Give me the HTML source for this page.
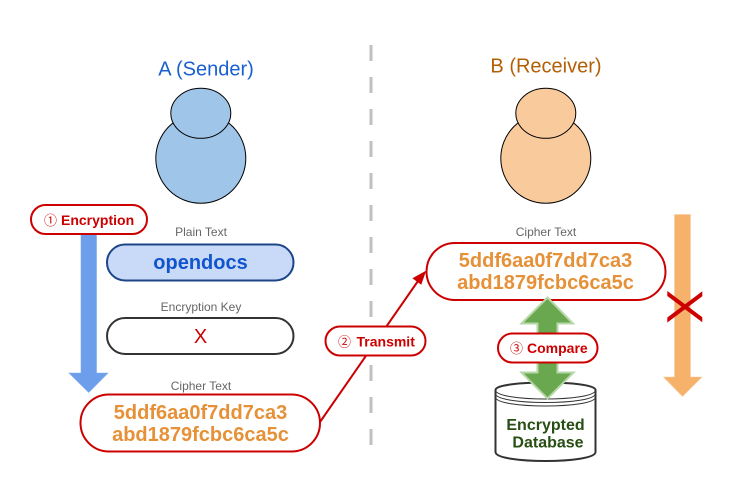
<!DOCTYPE html>
<html><head><meta charset="utf-8"><style>
html,body{margin:0;padding:0;background:#fff;width:729px;height:490px;overflow:hidden}
svg{display:block}
text{font-family:"Liberation Sans","Noto Sans CJK JP",sans-serif;text-anchor:middle}
.s{text-anchor:start;font-size:14px;font-weight:bold;fill:#cc0000}
.c{text-anchor:start;font-size:13px;fill:#cc0000}
.h{font-size:20px;font-weight:bold;fill:#e69138}
</style></head><body>
<svg width="729" height="490" viewBox="0 0 729 490" xmlns="http://www.w3.org/2000/svg">
<defs><clipPath id="xc"><rect x="667.300" y="285" width="35" height="45"/></clipPath></defs>
<rect width="729" height="490" fill="#fff"/>
<line x1="371" y1="45" x2="371" y2="445" stroke="#c0c0c0" stroke-width="3" stroke-dasharray="16 16"/>
<text x="206" y="75.500" font-size="20" fill="#1a5fd0">A (Sender)</text>
<text x="546" y="72.500" font-size="20" fill="#b45f06">B (Receiver)</text>
<circle cx="200.800" cy="158.300" r="45" fill="#9fc5e8" stroke="#000" stroke-width="1"/>
<ellipse cx="200.800" cy="113.300" rx="30" ry="25" fill="#9fc5e8" stroke="#000" stroke-width="1"/>
<circle cx="545.800" cy="158.300" r="45" fill="#f9cb9c" stroke="#000" stroke-width="1"/>
<ellipse cx="545.800" cy="113.300" rx="30" ry="25" fill="#f9cb9c" stroke="#000" stroke-width="1"/>
<polygon points="81,230 96.500,230 96.500,373 108,373 88.700,392.500 69,373 81,373" fill="#6d9eeb" stroke="#7fabee" stroke-width="0.600"/>
<rect x="31" y="205" width="116" height="29" rx="14.500" fill="#fff" stroke="#cc0000" stroke-width="2"/>
<text class="c" x="44" y="225">①</text>
<text class="s" x="61" y="225">Encryption</text>
<text x="201" y="236" font-size="12" fill="#666">Plain Text</text>
<rect x="107" y="244.500" width="186.500" height="36" rx="18" fill="#c9daf8" stroke="#1c4587" stroke-width="2"/>
<text x="200.500" y="269" font-size="20" font-weight="bold" fill="#1155cc">opendocs</text>
<text x="201" y="311" font-size="12" fill="#666">Encryption Key</text>
<rect x="107" y="318" width="186.500" height="36" rx="18" fill="#fff" stroke="#333" stroke-width="2"/>
<text x="200.500" y="343" font-size="20" fill="#cc0000">X</text>
<text x="201" y="390" font-size="12" fill="#666">Cipher Text</text>
<line x1="320" y1="422" x2="418" y2="281" stroke="#cc0000" stroke-width="2"/>
<polygon points="425.300,271.700 421,284 413.300,278.300" fill="#cc0000" stroke="#cc0000"/>
<rect x="80.500" y="394.500" width="239.500" height="57" rx="28.500" fill="#fff" stroke="#cc0000" stroke-width="2"/>
<text class="h" x="200.500" y="419">5ddf6aa0f7dd7ca3</text>
<text class="h" x="200.500" y="441">abd1879fcbc6ca5c</text>
<rect x="325.500" y="326.500" width="100" height="29" rx="14.500" fill="#fff" stroke="#cc0000" stroke-width="2"/>
<text class="c" x="338" y="346.500">②</text>
<text class="s" x="356.500" y="346.500">Transmit</text>
<text x="546" y="236" font-size="12" fill="#666">Cipher Text</text>
<path d="M495.500 390 C495.500 380 595.500 380 595.500 390 V452 C595.500 464 495.500 464 495.500 452 Z" fill="#fff" stroke="#333" stroke-width="2"/>
<path d="M495.500 390 C495.500 402 595.500 402 595.500 390 M495.500 393.500 C495.500 405.500 595.500 405.500 595.500 393.500 M495.500 397 C495.500 409 595.500 409 595.500 397" fill="none" stroke="#333" stroke-width="1"/>
<text x="545.500" y="430" font-size="16" font-weight="bold" fill="#274e13">Encrypted</text>
<text x="548" y="447.500" font-size="16" font-weight="bold" fill="#274e13">Database</text>
<rect x="426.500" y="243" width="239" height="57" rx="28.500" fill="#fff" stroke="#cc0000" stroke-width="2"/>
<text class="h" x="545.500" y="267">5ddf6aa0f7dd7ca3</text>
<text class="h" x="545.500" y="289">abd1879fcbc6ca5c</text>
<polygon points="547.500,297.500 573,323.500 557.500,323.500 557.500,372.500 573.500,372.500 547.500,398.500 521.500,372.500 537.500,372.500 537.500,323.500 521.500,323.500" fill="#6aa84f" stroke="#b6d7a8" stroke-width="2"/>
<rect x="498" y="333.500" width="99.500" height="29" rx="14.500" fill="#fff" stroke="#cc0000" stroke-width="2"/>
<text class="c" x="510" y="353">③</text>
<text class="s" x="527" y="353">Compare</text>
<polygon points="674.500,214.500 690.500,214.500 690.500,377 702,377 682.500,396.500 663.500,377 674.500,377" fill="#f6b26b" stroke="#f9cb9c" stroke-width="0.600"/>
<g clip-path="url(#xc)" stroke="#cc0000" stroke-width="4"><line x1="661" y1="324.700" x2="709" y2="288.700"/><line x1="661" y1="288.700" x2="709" y2="324.700"/></g>
</svg>
</body></html>
